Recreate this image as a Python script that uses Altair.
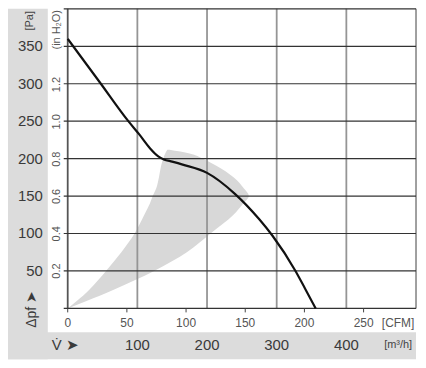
import altair as alt
import pandas as pd

# ---- data ----
# fan characteristic curve: flow [m³/h] vs static pressure [Pa]
curve_flow = [0, 46, 87, 103, 118, 130, 138, 150, 165, 200, 240, 275, 294, 327, 341, 356]
curve_pa = [360, 302, 250, 232, 214, 203, 199, 196, 192, 181, 153, 119, 97, 50, 26, 0]

# grey operating range: for each pressure level, left and right flow limit
range_pa = [0, 10, 17, 25, 50, 75, 100, 125, 140, 150, 160, 175, 190, 200, 207, 212]
range_left = [0, 13, 22, 31, 55, 77, 96, 110, 118, 122, 127, 131, 134, 137, 140, 143]
range_right = [0, 27, 46, 66, 124, 171, 205, 238, 252, 260, 253, 238, 214, 194, 175, 146]

grid_flow = [0, 100, 200, 300, 400, 500]
grid_pa = [0, 50, 100, 150, 200, 250, 300, 350, 400]
pa_labels = [50, 100, 150, 200, 250, 300, 350]
inch_labels = [0.2, 0.4, 0.6, 0.8, 1.0, 1.2]
cfm_labels = [0, 50, 100, 150, 200, 250]
m3h_labels = [100, 200, 300, 400]

PA_PER_INH2O = 249.089
M3H_PER_CFM = 1.699

W, H = 350, 301
FONT = "Liberation Sans"
GREY = "#dcdcdc"

xs = alt.Scale(domain=[0, 500], nice=False, zero=False)
ys = alt.Scale(domain=[0, 400], nice=False)

one = pd.DataFrame({"k": [0]})

bg_left = alt.Chart(one).mark_rect(color=GREY).encode(
    x=alt.value(-63), x2=alt.value(-20), y=alt.value(0), y2=alt.value(352))
bg_bottom = alt.Chart(one).mark_rect(color=GREY).encode(
    x=alt.value(-63), x2=alt.value(350), y=alt.value(325), y2=alt.value(352))

rng = pd.DataFrame({"pa": range_pa, "left": range_left, "right": range_right})
area = alt.Chart(rng).mark_area(orient="horizontal", color="#d8d8d8", interpolate="monotone").encode(
    y=alt.Y("pa:Q", scale=ys, axis=None),
    x=alt.X("left:Q", scale=xs, axis=None),
    x2="right:Q",
)

vgrid_df = pd.DataFrame({"flow": grid_flow})
vgrid = alt.Chart(vgrid_df).mark_rule(strokeWidth=1.8).encode(
    x=alt.X("flow:Q", scale=xs, axis=None),
    y=alt.value(0), y2=alt.value(H),
    color=alt.condition("datum.flow == 0", alt.value("#555555"), alt.value("#959595")),
)

hgrid_df = pd.DataFrame({"pa": grid_pa})
hgrid = alt.Chart(hgrid_df).mark_rule(strokeWidth=1.2, color="#333333").encode(
    y=alt.Y("pa:Q", scale=ys, axis=None),
    x=alt.value(-4), x2=alt.value(W),
)

cfm_df = pd.DataFrame({"cfm": cfm_labels})
cfm_ticks = alt.Chart(cfm_df).transform_calculate(
    flow=f"datum.cfm * {M3H_PER_CFM}"
).mark_rule(color="#444444", strokeWidth=1).encode(
    x=alt.X("flow:Q", scale=xs, axis=None),
    y=alt.value(H), y2=alt.value(H + 4),
)

curve_df = pd.DataFrame({"flow": curve_flow, "pa": curve_pa})
curve = alt.Chart(curve_df).mark_line(color="#111111", strokeWidth=2.2, interpolate="monotone").encode(
    x=alt.X("flow:Q", scale=xs, axis=None),
    y=alt.Y("pa:Q", scale=ys, axis=None),
)

pa_df = pd.DataFrame({"pa": pa_labels})
pa_text = alt.Chart(pa_df).mark_text(
    align="right", baseline="middle", fontSize=15, font=FONT, color="#3a3a3a"
).encode(
    x=alt.value(-25),
    y=alt.Y("pa:Q", scale=ys, axis=None),
    text=alt.Text("pa:Q"),
)

inch_df = pd.DataFrame({"inch": inch_labels})
inch_text = alt.Chart(inch_df).transform_calculate(
    pa=f"datum.inch * {PA_PER_INH2O}"
).mark_text(
    align="center", baseline="middle", fontSize=11, font=FONT, color="#555555", angle=270
).encode(
    x=alt.value(-11),
    y=alt.Y("pa:Q", scale=ys, axis=None),
    text=alt.Text("inch:Q", format=".1f"),
)

cfm_text = alt.Chart(cfm_df).transform_calculate(
    flow=f"datum.cfm * {M3H_PER_CFM}"
).mark_text(
    align="center", baseline="middle", fontSize=12, font=FONT, color="#555555"
).encode(
    x=alt.X("flow:Q", scale=xs, axis=None),
    y=alt.value(316),
    text=alt.Text("cfm:Q"),
)

m3h_df = pd.DataFrame({"flow": m3h_labels})
m3h_text = alt.Chart(m3h_df).mark_text(
    align="center", baseline="middle", fontSize=15, font=FONT, color="#3a3a3a"
).encode(
    x=alt.X("flow:Q", scale=xs, axis=None),
    y=alt.value(338),
    text=alt.Text("flow:Q"),
)

def label(txt, x, y, size, angle=0, align="center", color="#444444"):
    kw = dict(align=align, baseline="middle", fontSize=size, font=FONT, color=color, text=txt)
    if angle:
        kw["angle"] = angle
    return alt.Chart(one).mark_text(**kw).encode(x=alt.value(x), y=alt.value(y))

labels = [
    label("[Pa]", -38, 12, 11, angle=270),
    label("(in H₂O)", -11, 21, 11, angle=270, color="#555555"),
    label("[CFM]", 332, 316, 12, color="#555555"),
    label("[m³/h]", 332, 338, 11),
    label("V̇ ➤", -16, 338, 15, align="left", color="#3a3a3a"),
    label("Δpf ➤", -36, 302, 14, angle=270, color="#3a3a3a"),
]

chart = alt.layer(
    bg_left, bg_bottom, area, vgrid, hgrid, cfm_ticks, curve,
    pa_text, inch_text, cfm_text, m3h_text, *labels
).properties(
    width=W, height=H,
    autosize=alt.AutoSizeParams(type="none"),
    padding={"left": 60, "top": 0, "right": 2, "bottom": 55},
).configure_view(stroke=None)

chart.save("out.html", embed_options={"renderer": "svg", "actions": False})
